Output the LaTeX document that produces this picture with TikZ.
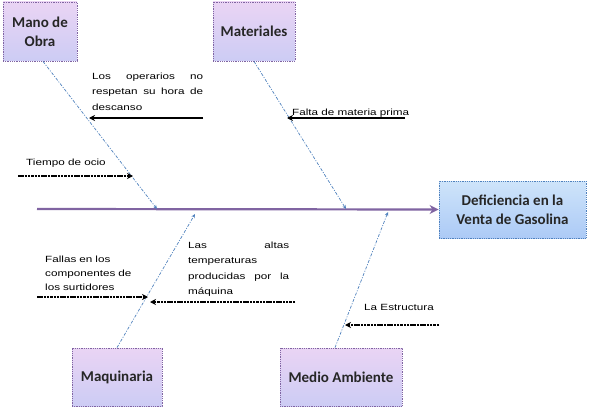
\documentclass[tikz,border=0pt]{standalone}
\usepackage{fontspec}
\usetikzlibrary{arrows.meta}
\newfontfamily\lblfont[FakeStretch=1.3]{Liberation Sans}
\newfontfamily\bxfont{Carlito}
\definecolor{spinec}{HTML}{8064A2}
\definecolor{bonec}{HTML}{4F81BD}
\definecolor{boxtop}{RGB}{234,212,244}
\definecolor{boxbot}{RGB}{204,204,244}
\definecolor{deftop}{RGB}{206,228,250}
\definecolor{defbot}{RGB}{172,202,246}
\begin{document}
\begin{tikzpicture}[x=1pt,y=-1pt,
  catbox/.style={draw=spinec, densely dotted, line width=0.8pt, top color=boxtop, bottom color=boxbot,
    font=\bxfont\bfseries\fontsize{15}{19}\selectfont, align=center, text=black!85, inner sep=2pt},
  effbox/.style={catbox, draw=bonec, top color=deftop, bottom color=defbot},
  spineline/.style={draw=spinec, line width=2.2pt, -{Stealth[length=9pt,width=9pt]}},
  boneline/.style={draw=bonec, line width=0.7pt, dash pattern=on 3pt off 1.5pt on 1pt off 1.5pt, -{Stealth[length=4pt,width=3.5pt]}},
  subarrow/.style={draw=black, line width=1.6pt, -{Stealth[length=6pt,width=6pt]}},
  subdash/.style={subarrow, dash pattern=on 2.5pt off 0.8pt},
  lbl/.style={font=\lblfont\fontsize{9}{16}\selectfont, inner sep=0pt, anchor=base west}
]
\useasboundingbox (0,0) rectangle (589,412);
% category boxes
\node[catbox, minimum width=74pt, minimum height=59pt] (mano) at (40,31.5) {Mano de\\Obra};
\node[catbox, minimum width=82pt, minimum height=59pt] (mat) at (254,31.5) {Materiales};
\node[catbox, minimum width=90pt, minimum height=58pt] (maq) at (117,377) {Maquinaria};
\node[catbox, minimum width=122pt, minimum height=58pt] (med) at (341,377) {Medio Ambiente};
\node[effbox, minimum width=147pt, minimum height=57pt] (def) at (512.5,209.5) {Deficiencia en la\\Venta de Gasolina};
% spine
\coordinate (sp0) at (37,209);
\draw[spineline] (sp0) -- (def.west);
% bone end points
\coordinate (s1) at (157,209);
\coordinate (s2) at (346,209);
\coordinate (s3) at (195,214);
\coordinate (s4) at (388,212);
\draw[boneline] ([xshift=3pt]mano.south) -- (s1);
\draw[boneline] (mat.south) -- (s2);
\draw[boneline] (maq.north) -- (s3);
\draw[boneline] ([xshift=-6pt]med.north) -- (s4);
% sub arrows
\coordinate (opA) at (203,118); \coordinate (opB) at (89,118);
\coordinate (faA) at (405,118); \coordinate (faB) at (287,118);
\coordinate (tiA) at (18,176);  \coordinate (tiB) at (133,176);
\coordinate (flA) at (37,297);  \coordinate (flB) at (148,297);
\coordinate (laA) at (295,302); \coordinate (laB) at (150,302);
\coordinate (leA) at (439,325); \coordinate (leB) at (345,325);
\draw[subarrow] (opA) -- (opB);
\draw[subarrow] (faA) -- (faB);
\draw[subdash] (tiA) -- (tiB);
\draw[subdash] (flA) -- (flB);
\draw[subdash] (laA) -- (laB);
\draw[subdash] (leA) -- (leB);
% labels
\node[lbl, text width=111pt, align=justify] (opT) at (92,79) {Los operarios no\linebreak respetan su hora de\linebreak descanso};
\node[lbl] (faT) at (292,115) {Falta de materia prima};
\node[lbl] (tiT) at (26,165) {Tiempo de ocio};
\node[lbl, text width=95pt, align=left, font=\lblfont\fontsize{9}{14}\selectfont] (flT) at (45,262) {Fallas en los\\componentes de\\los surtidores};
\node[lbl, text width=101pt, align=justify, font=\lblfont\fontsize{9}{15.5}\selectfont] (laT) at (188,248) {Las altas\linebreak temperaturas\\producidas por la\linebreak máquina};
\node[lbl] (leT) at (364,310) {La Estructura};
\end{tikzpicture}
\end{document}
